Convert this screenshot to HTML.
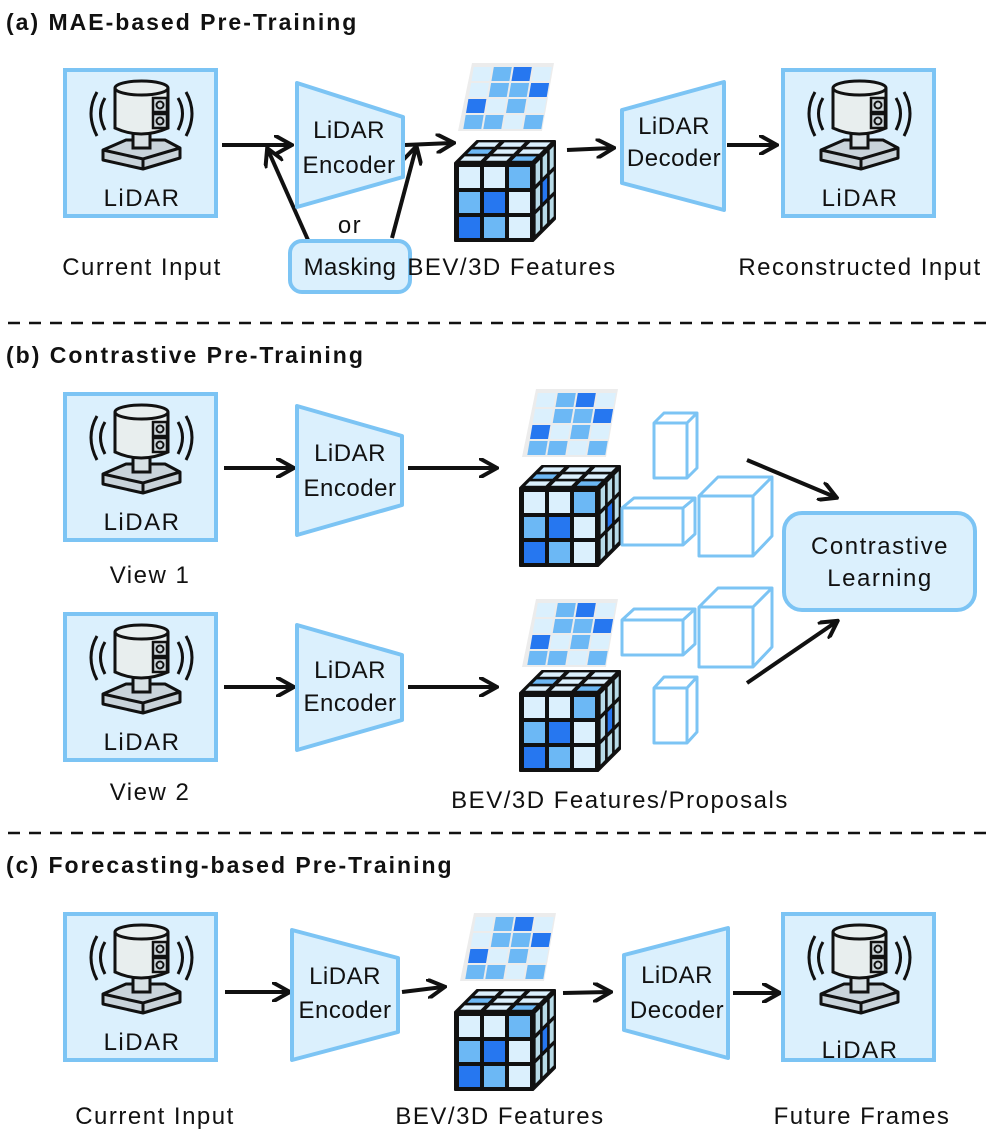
<!DOCTYPE html>
<html><head><meta charset="utf-8"><style>
html,body{margin:0;padding:0;background:#fff}
svg{display:block}
text{font-family:"Liberation Sans",sans-serif;fill:#111}
.t{font-size:24px;text-anchor:middle;letter-spacing:1.5px}
.n{font-size:24px;text-anchor:middle;letter-spacing:0.5px}
.h{font-size:23px;font-weight:bold;letter-spacing:2px}
</style></head><body>
<svg width="996" height="1134" viewBox="0 0 996 1134" xmlns="http://www.w3.org/2000/svg">
<defs>
<marker id="ar" viewBox="0 0 10 10" refX="8" refY="5" markerWidth="5" markerHeight="5" orient="auto"><path d="M0,0 L9,5 L0,10" fill="none" stroke="#111" stroke-width="2"/></marker>
<g id="lidar">
<rect x="2" y="2" width="151" height="146" fill="#dbf0fd" stroke="#7cc4f4" stroke-width="4"/>
<path d="M42,30 Q33,45 42,62" fill="none" stroke="#111" stroke-width="3"/>
<path d="M34,24 Q22,45 34,68" fill="none" stroke="#111" stroke-width="3"/>
<path d="M115,30 Q124,45 115,62" fill="none" stroke="#111" stroke-width="3"/>
<path d="M123,24 Q135,45 123,68" fill="none" stroke="#111" stroke-width="3"/>
<path d="M40,82 L63,72 L102,72 L117,80 L117,90 L80,101 L40,92 Z" fill="#c9d3da" stroke="#111" stroke-width="3" stroke-linejoin="round"/>
<path d="M40,82 L80,91 L117,80 M80,91 L80,101" fill="none" stroke="#111" stroke-width="3"/>
<rect x="70" y="64" width="17" height="16" fill="#d8e0e4" stroke="#111" stroke-width="3"/>
<path d="M52,20 L52,60 Q78,72 105,60 L105,20" fill="#e8eeee" stroke="#111" stroke-width="3"/>
<ellipse cx="78.5" cy="20" rx="26.5" ry="7" fill="#e8eeee" stroke="#111" stroke-width="3"/>
<rect x="90" y="30" width="14" height="14" fill="#d0d8dc" stroke="#111" stroke-width="2.5"/>
<rect x="90" y="46" width="14" height="14" fill="#d0d8dc" stroke="#111" stroke-width="2.5"/>
<circle cx="97" cy="37" r="3.5" fill="none" stroke="#111" stroke-width="2"/>
<circle cx="97" cy="53" r="3.5" fill="none" stroke="#111" stroke-width="2"/>
</g>
<g id="cube">
<path d="M0,22 L22,0 L100,0 L100,78 L78,100 L0,100 Z" fill="#111" stroke="#111" stroke-width="2" stroke-linejoin="round"/>
<g transform="matrix(78,0,22,-22,0,22)">
<rect x="0.04" y="0.1" width="0.26" height="0.2" fill="#dbf0fd"/><rect x="0.37" y="0.1" width="0.26" height="0.2" fill="#dbf0fd"/><rect x="0.7" y="0.1" width="0.26" height="0.2" fill="#6cb8f5"/>
<rect x="0.04" y="0.42" width="0.26" height="0.2" fill="#6cb8f5"/><rect x="0.37" y="0.42" width="0.26" height="0.2" fill="#dbf0fd"/><rect x="0.7" y="0.42" width="0.26" height="0.2" fill="#dbf0fd"/>
<rect x="0.04" y="0.74" width="0.26" height="0.2" fill="#dbf0fd"/><rect x="0.37" y="0.74" width="0.26" height="0.2" fill="#dbf0fd"/><rect x="0.7" y="0.74" width="0.26" height="0.2" fill="#dbf0fd"/>
</g>
<g transform="matrix(22,-22,0,78,78,22)">
<rect x="0.12" y="0.05" width="0.2" height="0.26" fill="#b8dbe8"/><rect x="0.44" y="0.05" width="0.2" height="0.26" fill="#b8dbe8"/><rect x="0.76" y="0.05" width="0.18" height="0.26" fill="#b8dbe8"/>
<rect x="0.12" y="0.37" width="0.2" height="0.26" fill="#b8dbe8"/><rect x="0.44" y="0.37" width="0.2" height="0.26" fill="#2677f0"/><rect x="0.76" y="0.37" width="0.18" height="0.26" fill="#b8dbe8"/>
<rect x="0.12" y="0.69" width="0.2" height="0.26" fill="#b8dbe8"/><rect x="0.44" y="0.69" width="0.2" height="0.26" fill="#b8dbe8"/><rect x="0.76" y="0.69" width="0.18" height="0.26" fill="#b8dbe8"/>
</g>
<rect x="4" y="26" width="21" height="21" fill="#dbf0fd"/><rect x="29" y="26" width="21" height="21" fill="#dbf0fd"/><rect x="54" y="26" width="21" height="21" fill="#6cb8f5"/>
<rect x="4" y="51" width="21" height="21" fill="#6cb8f5"/><rect x="29" y="51" width="21" height="21" fill="#2677f0"/><rect x="54" y="51" width="21" height="21" fill="#dbf0fd"/>
<rect x="4" y="76" width="21" height="21" fill="#2677f0"/><rect x="29" y="76" width="21" height="21" fill="#6cb8f5"/><rect x="54" y="76" width="21" height="21" fill="#dbf0fd"/>
</g>
<g id="plane">
<path d="M14,0 L96,0 L84,68 L0,68 Z" fill="#ececec"/>
<g transform="matrix(1,0,-0.17,1,14,3)">
<rect x="2" y="1" width="18" height="14" fill="#dbf0fd"/><rect x="22" y="1" width="18" height="14" fill="#6cb8f5"/><rect x="42" y="1" width="18" height="14" fill="#2677f0"/><rect x="62" y="1" width="18" height="14" fill="#dbf0fd"/>
<rect x="2" y="17" width="18" height="14" fill="#dbf0fd"/><rect x="22" y="17" width="18" height="14" fill="#6cb8f5"/><rect x="42" y="17" width="18" height="14" fill="#6cb8f5"/><rect x="62" y="17" width="18" height="14" fill="#2677f0"/>
<rect x="2" y="33" width="18" height="14" fill="#2677f0"/><rect x="22" y="33" width="18" height="14" fill="#dbf0fd"/><rect x="42" y="33" width="18" height="14" fill="#6cb8f5"/><rect x="62" y="33" width="18" height="14" fill="#dbf0fd"/>
<rect x="2" y="49" width="18" height="14" fill="#6cb8f5"/><rect x="22" y="49" width="18" height="14" fill="#6cb8f5"/><rect x="42" y="49" width="18" height="14" fill="#dbf0fd"/><rect x="62" y="49" width="18" height="14" fill="#6cb8f5"/>
</g>
</g>
</defs>
<g stroke="#111" stroke-width="4" fill="none" marker-end="url(#ar)">
<line x1="222" y1="145" x2="290" y2="145"/>
<line x1="308" y1="240" x2="268" y2="150"/>
<line x1="392" y1="238" x2="416" y2="148"/>
<line x1="405" y1="145" x2="452" y2="143"/>
<line x1="567" y1="150" x2="612" y2="148"/>
<line x1="727" y1="145" x2="775" y2="145"/>
<line x1="224" y1="468" x2="292" y2="468"/>
<line x1="408" y1="468" x2="495" y2="468"/>
<line x1="747" y1="460" x2="835" y2="497"/>
<line x1="224" y1="687" x2="292" y2="687"/>
<line x1="408" y1="687" x2="495" y2="687"/>
<line x1="747" y1="683" x2="836" y2="622"/>
<line x1="225" y1="992" x2="288" y2="992"/>
<line x1="402" y1="992" x2="443" y2="987"/>
<line x1="563" y1="993" x2="609" y2="992"/>
<line x1="733" y1="993" x2="778" y2="993"/>
</g>
<g stroke="#111" stroke-width="2.5" stroke-dasharray="12,9"><line x1="8" y1="323" x2="990" y2="323"/><line x1="8" y1="833" x2="990" y2="833"/></g>
<text x="6" y="30" class="h">(a)   MAE-based Pre-Training</text>
<text x="6" y="363" class="h">(b)   Contrastive Pre-Training</text>
<text x="6" y="873" class="h">(c)  Forecasting-based Pre-Training</text>
<g fill="#dbf0fd" stroke="#7cc4f4" stroke-width="4" stroke-linejoin="round">
<path d="M297,83 L403,117 L403,177 L297,207 Z"/>
<path d="M622,110 L724,82 L724,210 L622,183 Z"/>
<path d="M297,406 L402,436 L402,505 L297,535 Z"/>
<path d="M297,625 L402,655 L402,720 L297,750 Z"/>
<path d="M292,930 L398,958 L398,1032 L292,1060 Z"/>
<path d="M624,955 L728,928 L728,1058 L624,1030 Z"/>
<rect x="290" y="241" width="120" height="51" rx="12"/>
<rect x="784" y="513" width="191" height="97" rx="18"/>
</g>
<use href="#lidar" x="63" y="68"/><use href="#lidar" x="781" y="68"/>
<use href="#lidar" x="63" y="392"/><use href="#lidar" x="63" y="612"/>
<use href="#lidar" x="63" y="912"/><use href="#lidar" x="781" y="912"/>
<use href="#plane" x="458" y="63"/><use href="#cube" x="455" y="141"/>
<use href="#plane" x="522" y="389"/><use href="#cube" x="520" y="466"/>
<use href="#plane" x="522" y="599"/><use href="#cube" x="520" y="671"/>
<use href="#plane" x="460" y="913"/><use href="#cube" x="455" y="990"/>
<g fill="#fff" stroke="#7cc4f4" stroke-width="3" stroke-linejoin="round">
<path d="M654,478 L654,423 L664,413 L697,413 L697,468 L687,478 Z M654,423 L687,423 L697,413 M687,423 L687,478"/>
<path d="M622,545 L622,508 L634,498 L695,498 L695,534 L683,545 Z M622,508 L683,508 L695,498 M683,508 L683,545"/>
<path d="M699,556 L699,496 L718,477 L772,477 L772,536 L753,556 Z M699,496 L753,496 L772,477 M753,496 L753,556"/>
<path d="M622,655 L622,620 L634,609 L695,609 L695,644 L683,655 Z M622,620 L683,620 L695,609 M683,620 L683,655"/>
<path d="M699,667 L699,607 L718,588 L772,588 L772,647 L753,667 Z M699,607 L753,607 L772,588 M753,607 L753,667"/>
<path d="M654,743 L654,688 L664,677 L697,677 L697,732 L687,743 Z M654,688 L687,688 L697,677 M687,688 L687,743"/>
</g>
<text class="t" x="142" y="206">LiDAR</text><text class="t" x="860" y="206">LiDAR</text>
<text class="t" x="142" y="530">LiDAR</text><text class="t" x="142" y="750">LiDAR</text>
<text class="t" x="142" y="1050">LiDAR</text><text class="t" x="860" y="1058">LiDAR</text>
<text class="n" x="349" y="138">LiDAR</text><text class="n" x="349" y="173">Encoder</text>
<text class="n" x="674" y="134">LiDAR</text><text class="n" x="674" y="166">Decoder</text>
<text class="n" x="350" y="461">LiDAR</text><text class="n" x="350" y="496">Encoder</text>
<text class="n" x="350" y="678">LiDAR</text><text class="n" x="350" y="711">Encoder</text>
<text class="n" x="345" y="984">LiDAR</text><text class="n" x="345" y="1018">Encoder</text>
<text class="n" x="677" y="983">LiDAR</text><text class="n" x="677" y="1018">Decoder</text>
<text class="t" x="350" y="233">or</text>
<text class="n" x="350" y="275">Masking</text>
<text class="t" x="142" y="275">Current Input</text>
<text class="t" x="512" y="275">BEV/3D Features</text>
<text class="t" x="860" y="275">Reconstructed Input</text>
<text class="t" x="150" y="583">View 1</text>
<text class="t" x="150" y="800">View 2</text>
<text class="t" x="880" y="554">Contrastive</text>
<text class="t" x="880" y="586">Learning</text>
<text class="t" x="620" y="808">BEV/3D Features/Proposals</text>
<text class="t" x="155" y="1124">Current Input</text>
<text class="t" x="500" y="1124">BEV/3D Features</text>
<text class="t" x="862" y="1124">Future Frames</text>
</svg>
</body></html>
